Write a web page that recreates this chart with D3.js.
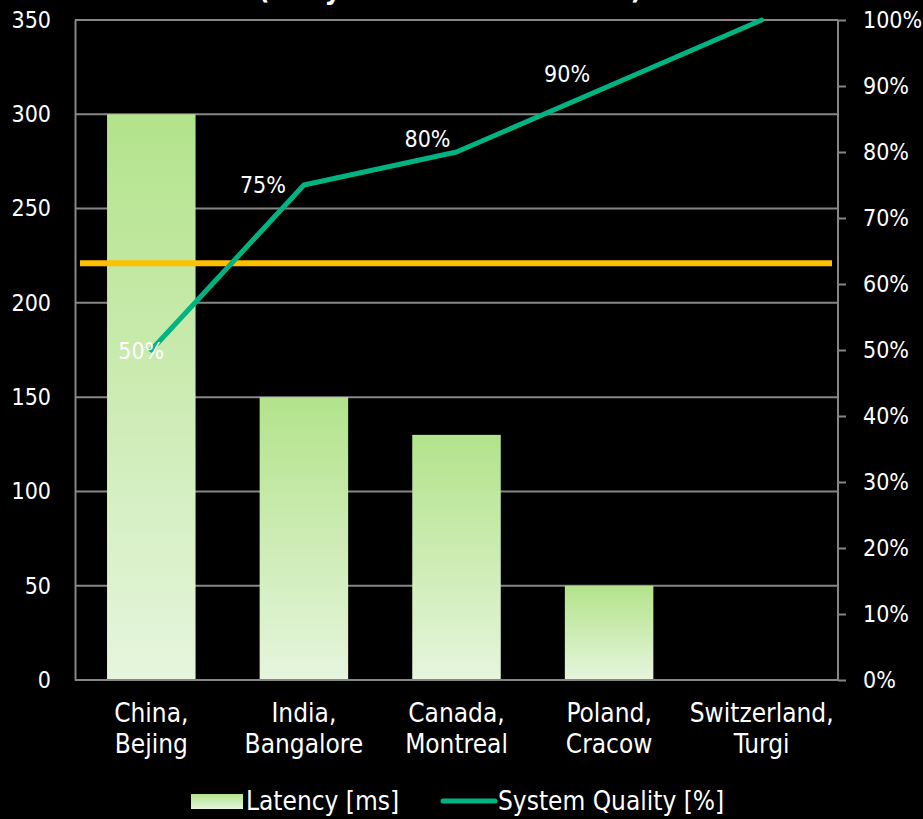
<!DOCTYPE html>
<html>
<head>
<meta charset="utf-8">
<script src="https://cdn.jsdelivr.net/npm/d3@7"></script>
<style>
  html, body { margin: 0; padding: 0; background: #000; }
  svg { display: block; }
  text { font-family: 'DejaVu Sans Condensed', 'DejaVu Sans', sans-serif; font-stretch: condensed; fill: #fff; }
</style>
</head>
<body>
<svg id="chart" width="923" height="819"></svg>
<script>
// ---- data ----
const titleText = "(Daily Remote Access Test)";
const categories = [["China,", "Bejing"], ["India,", "Bangalore"], ["Canada,", "Montreal"], ["Poland,", "Cracow"], ["Switzerland,", "Turgi"]];
const latency = [300, 150, 130, 50, 0];
const quality = [0.50, 0.75, 0.80, 0.90, 1.00];
const qualityLabels = ["50%", "75%", "80%", "90%", null];
const thresholdLatency = 221;
const leftTicks = [0, 50, 100, 150, 200, 250, 300, 350];
const rightTicks = [0, 0.1, 0.2, 0.3, 0.4, 0.5, 0.6, 0.7, 0.8, 0.9, 1.0];
const legendLabels = ["Latency [ms]", "System Quality [%]"];

// label offsets (styling, relative to point)
const labelOffsets = [[-10, 1], [-41, 0], [-29, -13], [-42, -12], [0, -14]];

// ---- layout ----
const m = { left: 75, right: 838, top: 20, bottom: 680 };
const svg = d3.select("#chart");
const keys = categories.map(c => c.join(" "));

const x = d3.scaleBand().domain(keys).range([m.left, m.right]).paddingInner(0.42).paddingOuter(0.21);
const yL = d3.scaleLinear().domain([0, 350]).range([m.bottom, m.top]);
const yR = d3.scaleLinear().domain([0, 1]).range([m.bottom, m.top]);

// gradient
const defs = svg.append("defs");
const grad = defs.append("linearGradient").attr("id", "barGrad").attr("x1", 0).attr("y1", 0).attr("x2", 0).attr("y2", 1);
grad.append("stop").attr("offset", "0%").attr("stop-color", "#b3e38b");
grad.append("stop").attr("offset", "100%").attr("stop-color", "#e6f5dd");

// title (cut off at the top, as in the original)
svg.append("text").attr("x", 450).attr("y", -1).attr("text-anchor", "middle")
  .style("font-size", "28px").style("font-weight", "bold").text(titleText);

// gridlines
svg.append("g").selectAll("line").data(leftTicks.filter(d => d > 0)).join("line")
  .attr("x1", m.left).attr("x2", m.right)
  .attr("y1", d => yL(d)).attr("y2", d => yL(d))
  .attr("stroke", "#868686").attr("stroke-width", 2);

// bars
svg.append("g").selectAll("rect").data(latency).join("rect")
  .attr("x", (d, i) => x(keys[i])).attr("width", x.bandwidth())
  .attr("y", d => yL(d)).attr("height", d => yL(0) - yL(d))
  .attr("fill", "url(#barGrad)");

// left axis
const gL = svg.append("g").attr("transform", `translate(${m.left},0)`)
  .call(d3.axisLeft(yL).tickValues(leftTicks).tickSize(0).tickPadding(24));
gL.select(".domain").attr("stroke", "#868686").attr("stroke-width", 2);
gL.selectAll("text").style("font-size", "23px").style("font-family", null).attr("fill", "#fff");

// right axis
const gR = svg.append("g").attr("transform", `translate(${m.right},0)`)
  .call(d3.axisRight(yR).tickValues(rightTicks).tickFormat(d3.format(".0%")).tickSize(8).tickPadding(17));
gR.select(".domain").attr("stroke", "#868686").attr("stroke-width", 2).attr("d", `M0,${m.top}V${m.bottom}`);
gR.selectAll(".tick line").attr("stroke", "#868686").attr("stroke-width", 2);
gR.selectAll("text").style("font-size", "23px").style("font-family", null).attr("fill", "#fff");

// bottom axis
const gB = svg.append("g").attr("transform", `translate(0,${m.bottom})`)
  .call(d3.axisBottom(x).tickSize(0).tickFormat(""));
gB.select(".domain").attr("stroke", "#868686").attr("stroke-width", 2).attr("d", `M${m.left},0H${m.right}`);
gB.selectAll(".tick").each(function (d, i) {
  const t = d3.select(this).append("text").attr("text-anchor", "middle").style("font-size", "26px");
  categories[i].forEach((ln, j) => t.append("tspan").attr("x", 0).attr("y", 42 + j * 31).text(ln));
});

// threshold line
svg.append("line").attr("x1", m.left + 5).attr("x2", m.right - 6)
  .attr("y1", yL(thresholdLatency)).attr("y2", yL(thresholdLatency))
  .attr("stroke", "#ffc000").attr("stroke-width", 6);

// quality line
const pts = quality.map((q, i) => [x(keys[i]) + x.bandwidth() / 2, yR(q)]);
svg.append("path").attr("d", d3.line()(pts)).attr("fill", "none")
  .attr("stroke", "#00b482").attr("stroke-width", 5).attr("stroke-linejoin", "round").attr("stroke-linecap", "round");

// data labels
svg.append("g").selectAll("text").data(quality.map((q, i) => ({ q, i })).filter(d => qualityLabels[d.i])).join("text")
  .attr("x", d => pts[d.i][0] + labelOffsets[d.i][0])
  .attr("y", d => pts[d.i][1] + labelOffsets[d.i][1])
  .attr("text-anchor", "middle").attr("dominant-baseline", "central")
  .style("font-size", "23px").text(d => qualityLabels[d.i]);

// legend
const lg = svg.append("g");
lg.append("rect").attr("x", 191).attr("y", 794).attr("width", 52).attr("height", 15).attr("fill", "url(#barGrad)");
lg.append("text").attr("x", 246).attr("y", 801).attr("dominant-baseline", "central").style("font-size", "26px").text(legendLabels[0]);
lg.append("line").attr("x1", 443).attr("x2", 495).attr("y1", 801).attr("y2", 801)
  .attr("stroke", "#00b482").attr("stroke-width", 5).attr("stroke-linecap", "round");
lg.append("text").attr("x", 498).attr("y", 801).attr("dominant-baseline", "central").style("font-size", "26px").text(legendLabels[1]);
</script>
</body>
</html>
